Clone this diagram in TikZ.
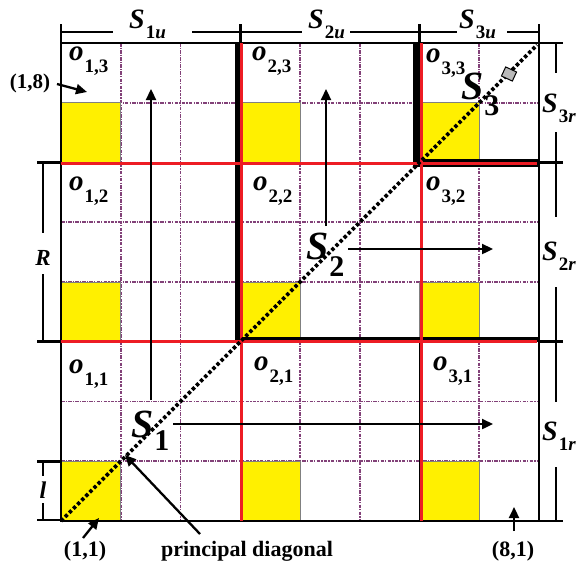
\documentclass[tikz,border=0pt]{standalone}
\usepackage{fontspec}
\setmainfont{Liberation Serif}
\usetikzlibrary{arrows.meta}
\definecolor{gridpurple}{RGB}{130,65,120}
\definecolor{boxyellow}{RGB}{255,240,0}
\definecolor{blockred}{RGB}{237,28,36}
\newcommand{\olab}[1]{{\fontsize{29}{29}\selectfont\bfseries\itshape o}\kern1pt\raisebox{-12pt}{\fontsize{19}{19}\selectfont\bfseries #1}}
\newcommand{\biglab}[2]{{\fontsize{40}{40}\selectfont\bfseries\itshape S}\kern1pt\raisebox{#2}{\fontsize{30}{30}\selectfont\bfseries #1}}
\newcommand{\dimlab}[2]{{\fontsize{28}{28}\selectfont\bfseries\itshape S}\kern1pt\raisebox{-10pt}{\fontsize{19}{19}\selectfont\bfseries #1\textit{#2}}}
\begin{document}
\begin{tikzpicture}[x=1pt,y=-1pt,
  purp/.style={gridpurple,line width=1.6pt,dash pattern=on 3.5pt off 1.2pt on 1.2pt off 1.2pt},
  ybox/.style={fill=boxyellow,draw=gray,line width=0.6pt},
  redl/.style={blockred,line width=3pt},
  thickb/.style={black,line width=5pt},
  diml/.style={black,line width=2.6pt},
  arr/.style={black,line width=2.3pt,-{Triangle[length=11pt,width=10pt]}},
  lab/.style={inner sep=0pt,anchor=base west},
  txt/.style={inner sep=0pt,font=\fontsize{22}{22}\selectfont\bfseries}
]
\useasboundingbox[fill=white] (0,0) rectangle (577,568);
% purple dotted interior grid
\foreach \x in {120.75,180.5,300,359.75,479.25} \draw[purp] (\x,43) -- (\x,521);
\foreach \y in {102.75,222.25,282,401.5,461.25} \draw[purp] (61,\y) -- (539,\y);
% yellow squares
\foreach \x in {61,240.25,419.5}
  \foreach \y in {102.75,282,461.25}
    \draw[ybox] (\x,\y) rectangle ++(59.75,59.75);
% outer border
\draw[black,line width=1.8pt] (61,43) rectangle (539,521);
\draw[black,line width=1.2pt] (419.5,341.75) -- (419.5,521);
% thick black staircase
\draw[thickb] (237.5,43) -- (237.5,343) (235,339) -- (539,339);
\draw[thickb,line width=8pt] (417,43) -- (417,166) (414.5,162.5) -- (539,162.5);
% red block lines
\draw[redl] (241.5,43) -- (241.5,521);
\draw[redl] (421,43) -- (421,521);
\draw[redl] (61,163) -- (537,163);
\draw[redl] (61,341.75) -- (537,341.75);
% principal diagonal
\coordinate (d0) at (61,521);
\coordinate (d1) at (537,45);
\draw[black,line width=3.6pt,dash pattern=on 3.4pt off 2.4pt] (d0) -- (d1);
\node[draw=black,fill=gray!55,line width=1pt,minimum width=12pt,minimum height=10pt,inner sep=0pt,rotate=-25] (glyph) at (509,74) {};
% top dimension lines
\draw[diml] (61,24) -- (61,43) (240.25,24) -- (240.25,43) (419.5,24) -- (419.5,43) (539,24) -- (539,43);
\draw[diml] (61,32) -- (113,32) (192,32) -- (240.25,32);
\draw[diml] (240.25,32) -- (302,32) (350,32) -- (419.5,32);
\draw[diml] (419.5,32) -- (457,32) (507,32) -- (539,32);
\node[lab] (s1u) at (129,28) {\dimlab{1}{u}};
\node[lab] (s2u) at (308,28) {\dimlab{2}{u}};
\node[lab] (s3u) at (459,28) {\dimlab{3}{u}};
% right dimension lines
\draw[diml] (539,43) -- (563,43) (539,162.5) -- (563,162.5) (539,341.75) -- (563,341.75) (539,521) -- (563,521);
\draw[diml] (556,43) -- (556,73) (556,132) -- (556,217) (556,287) -- (556,402) (556,467) -- (556,521);
\node[lab] (s3r) at (542,112) {\dimlab{3}{r}};
\node[lab] (s2r) at (542,260) {\dimlab{2}{r}};
\node[lab] (s1r) at (542,440) {\dimlab{1}{r}};
% left dimension lines
\draw[diml] (37,162.5) -- (61,162.5) (37,341.75) -- (61,341.75) (37,461.25) -- (61,461.25) (37,520) -- (61,520);
\draw[diml] (43,162.5) -- (43,233) (43,274) -- (43,341.75) (43,461.25) -- (43,476) (43,503) -- (43,520);
\node[inner sep=0pt,font=\fontsize{23}{23}\selectfont\bfseries\itshape] (R) at (43,258) {R};
\node[inner sep=0pt,font=\fontsize{24}{24}\selectfont\bfseries\itshape] (l) at (43,490) {l};
% cell labels
\node[lab] (o13) at (69,60) {\olab{1,3}};
\node[lab] (o23) at (252,60) {\olab{2,3}};
\node[lab] (o33) at (426,62) {\olab{3,3}};
\node[lab] (o12) at (69,190) {\olab{1,2}};
\node[lab] (o22) at (253,190) {\olab{2,2}};
\node[lab] (o32) at (426,190) {\olab{3,2}};
\node[lab] (o11) at (69,373) {\olab{1,1}};
\node[lab] (o21) at (254,370) {\olab{2,1}};
\node[lab] (o31) at (433,370) {\olab{3,1}};
% scan arrows
\coordinate (a1s) at (151,400); \coordinate (a1e) at (151,89);
\coordinate (b1s) at (173,424); \coordinate (b1e) at (493,424);
\coordinate (a2s) at (326,226); \coordinate (a2e) at (326,89);
\coordinate (b2s) at (348,249); \coordinate (b2e) at (493,249);
\draw[arr] (a1s) -- (a1e);
\draw[arr] (b1s) -- (b1e);
\draw[arr] (a2s) -- (a2e);
\draw[arr] (b2s) -- (b2e);
% big S labels
\node[lab] (S1) at (131,437) {\biglab{1}{-13pt}};
\node[lab] (S2) at (306,259) {\biglab{2}{-17pt}};
\node[lab] (S3) at (461,99) {\biglab{3}{-16pt}};
% annotations
\node[txt,font=\fontsize{21}{21}\selectfont\bfseries] (p18) at (30,83) {(1,8)};
\node[txt,anchor=base] (p11) at (85,556) {(1,1)};
\node[txt,anchor=base] (pd) at (247,556) {principal diagonal};
\node[txt,anchor=base] (p81) at (513,556) {(8,1)};
\coordinate (t18) at (87,92);
\coordinate (t11) at (99,518);
\coordinate (tpd) at (125,455);
\coordinate (t81) at (514,507);
\draw[arr] (57,84) -- (t18);
\draw[arr] (83,538) -- (t11);
\draw[arr] (200,534) -- (tpd);
\draw[arr] (514,531) -- (t81);
\end{tikzpicture}
\end{document}
